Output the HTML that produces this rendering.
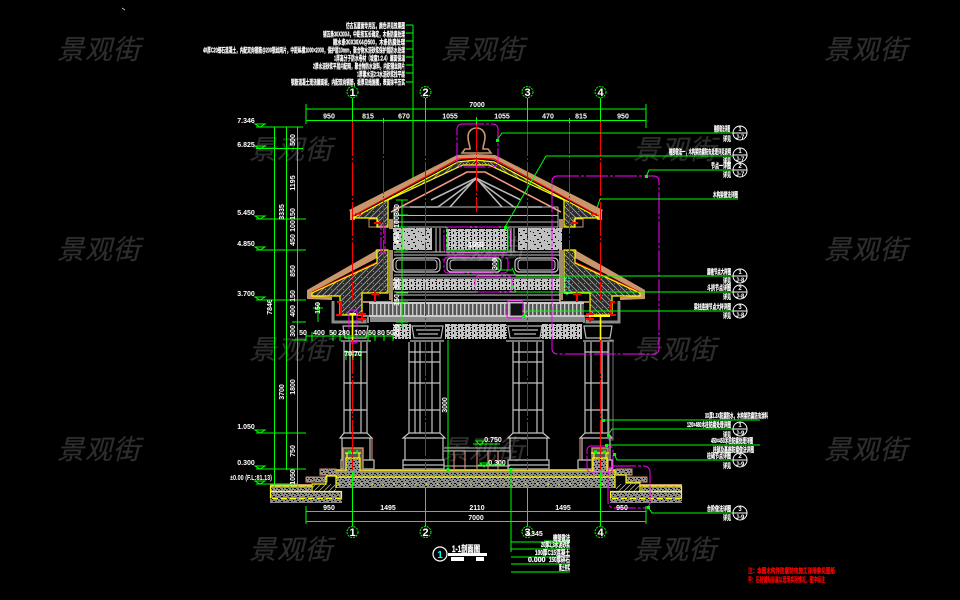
<!DOCTYPE html>
<html lang="zh">
<head>
<meta charset="utf-8">
<title>1-1剖面图</title>
<style>
html,body{margin:0;padding:0;background:#000;width:960px;height:600px;overflow:hidden}
svg{display:block}
text{font-family:"Liberation Sans","Noto Sans CJK SC",sans-serif}
.w text{fill:#2d2d2d;font-size:27px;font-weight:normal;font-style:italic;letter-spacing:1px;stroke:#2d2d2d;stroke-width:.3}
.d text{fill:#fff;font-size:7px;font-weight:bold;text-anchor:middle}
.n text{fill:#fff;font-size:7px;font-weight:bold;stroke:#fff;stroke-width:.25}
.g{stroke:#0f0;fill:none;stroke-width:1}
.y{stroke:#ff0;fill:none;stroke-width:1.2}
.m{stroke:#f0f;fill:none;stroke-width:1;stroke-dasharray:22 2 3 2}
.r{stroke:#f00;fill:none;stroke-width:1;stroke-dasharray:34 2 2 2}
.c{stroke:#c4c4c4;fill:none;stroke-width:1.2}
.circ text{fill:#fff;font-size:6px;font-weight:bold;text-anchor:middle}
.circ circle{fill:#000;stroke:#fff;stroke-width:1}
.circ line{stroke:#fff;stroke-width:1}
.ax circle{fill:none;stroke:#0f0;stroke-width:1;stroke-dasharray:2 1}
.ax text{fill:#fff;font-size:11px;font-weight:bold;text-anchor:middle}
</style>
</head>
<body>
<svg xmlns="http://www.w3.org/2000/svg" width="960" height="600" viewBox="0 0 960 600">
<defs>
<pattern id="hat" width="6" height="6" patternUnits="userSpaceOnUse">
<rect width="6" height="6" fill="#2a2a2a"/>
<path d="M0 6L6 0M-1 1L1 -1M5 7L7 5" stroke="#a0a0a0" stroke-width=".9"/>
<rect x="1" y="1" width="1" height="1" fill="#888"/>
</pattern>
<pattern id="orn" width="14" height="9" patternUnits="userSpaceOnUse">
<rect width="14" height="9" fill="#bfbfbf"/>
<rect x="2" y="1" width="2" height="1" fill="#000"/><rect x="9" y="2" width="1" height="2" fill="#000"/>
<rect x="5" y="5" width="2" height="1" fill="#000"/><rect x="12" y="6" width="1" height="1" fill="#000"/>
<rect x="1" y="7" width="1" height="1" fill="#000"/><rect x="7" y="8" width="2" height="1" fill="#000"/>
</pattern>
<pattern id="orn2" width="7" height="5" patternUnits="userSpaceOnUse">
<rect width="7" height="5" fill="#c4c4c4"/>
<rect x="1" y="1" width="2" height="1" fill="#000"/><rect x="5" y="2" width="1" height="2" fill="#000"/>
<rect x="2" y="3" width="1" height="2" fill="#000"/>
</pattern>
<pattern id="gra" width="8" height="5" patternUnits="userSpaceOnUse">
<rect width="8" height="5" fill="#8c8c8c"/>
<rect x="1" y="1" width="2" height="1" fill="#000"/><rect x="5" y="0" width="1" height="1" fill="#000"/>
<rect x="6" y="3" width="2" height="1" fill="#000"/><rect x="3" y="3" width="1" height="1" fill="#000"/>
<rect x="0" y="4" width="1" height="1" fill="#000"/>
</pattern>
<pattern id="stp" width="4" height="10" patternUnits="userSpaceOnUse">
<rect x="0" width="1.4" height="10" fill="#c8c8c8"/>
</pattern>
<pattern id="dia" width="5" height="5" patternUnits="userSpaceOnUse">
<path d="M0 5L5 0" stroke="#aaa" stroke-width=".8"/>
</pattern>
<g id="half">
<polygon points="353,218 458,163 476,160 476,165 463,165 388,201 388,227 377,227 377,218" fill="url(#hat)"/>
<polygon points="349,210 457,155 476,154 476,157 458,160 353,216" fill="#c8966a"/>
<rect x="350" y="211" width="5" height="9" fill="#c8966a"/>
<rect x="369" y="219" width="9" height="8" fill="#000" stroke="#c8966a"/>
<polyline points="353,216 458,159 476,158" stroke="#f00" fill="none"/>
<polyline points="353,218 458,162 476,160" class="y"/>
<polyline points="353,218 377,218 377,227 388,227 388,200 463,165 476,165" class="y"/>
<polyline points="391,212 467,172 476,172" stroke="#f59a80" fill="none" stroke-width="1.6"/>
<rect x="389" y="219" width="4" height="10" fill="#b08a68"/>
<rect x="376" y="250" width="12" height="4" fill="none" stroke="#c8966a"/>
<rect x="389" y="250" width="4" height="50" fill="#a08a70"/>
<line x1="355" y1="214" x2="361" y2="214" stroke="#f00" stroke-width="1.4"/>
<line x1="374" y1="223" x2="381" y2="223" stroke="#f00" stroke-width="2"/>
<polygon points="312,293 377,263 377,250 388,250 388,293 362,293 362,315 340,315 340,296 312,296" fill="url(#hat)"/>
<polygon points="307,290 377,250 377,258 312,292 312,296 332,297 332,300 307,299" fill="#c8966a"/>
<line x1="312" y1="292" x2="377" y2="262" stroke="#f00"/>
<polyline points="312,293 377,263 377,250 388,250 388,293 362,293 362,315 340,315 340,296 312,296 312,293" class="y"/>
<polyline points="362,302 392,302 392,293" stroke="#b08a68" fill="none" stroke-width="2"/>
<polyline points="333,301 333,322 365,322 365,318" stroke="#8c8c8c" fill="none" stroke-width="3"/>
<polyline points="362,316 368,316 368,323" stroke="#8c8c8c" fill="none" stroke-width="2"/>
<path d="M375 291V302M371 294H379M337 302H341V316M336 315H342M362 312V322M358 314H366M358 319H366" stroke="#f00" stroke-width="2" fill="none"/>
</g>
</defs>

<!-- watermarks -->
<g class="w">
<text x="57" y="59">景观街</text><text x="441" y="59">景观街</text><text x="824" y="59">景观街</text>
<text x="249" y="159">景观街</text><text x="633" y="159">景观街</text>
<text x="57" y="259">景观街</text><text x="441" y="259">景观街</text><text x="824" y="259">景观街</text>
<text x="249" y="359">景观街</text><text x="633" y="359">景观街</text>
<text x="57" y="459">景观街</text><text x="441" y="459">景观街</text><text x="824" y="459">景观街</text>
<text x="249" y="559">景观街</text><text x="633" y="559">景观街</text>
</g>
<line x1="122" y1="8" x2="125" y2="10" stroke="#bbb"/>

<!-- notes top -->
<g class="n">
<text x="346" y="28" textLength="59" lengthAdjust="spacingAndGlyphs">仿古瓦屋面专用瓦，颜色详见效果图</text>
<text x="323" y="36.5" textLength="82" lengthAdjust="spacingAndGlyphs">铺瓦条30X30X4，中距按瓦长确定，木条防腐处理</text>
<text x="333" y="44.5" textLength="72" lengthAdjust="spacingAndGlyphs">顺水条30X30X4@500，木条防腐处理</text>
<text x="203" y="52.5" textLength="202" lengthAdjust="spacingAndGlyphs">40厚C20细石混凝土，内配双向钢筋@200钢丝网片，中距纵横1000×2000，保护层10mm，聚合物水泥砂浆保护层防水处理</text>
<text x="334" y="60.5" textLength="71" lengthAdjust="spacingAndGlyphs">1厚高分子防水卷材（坡度1:2.4）屋面保温</text>
<text x="313" y="68.5" textLength="92" lengthAdjust="spacingAndGlyphs">2厚水泥砂浆平层内配网，聚合物防水涂料，内配钢丝网片</text>
<text x="357" y="76.5" textLength="48" lengthAdjust="spacingAndGlyphs">1厚素水泥2:3水泥砂浆找平层</text>
<text x="291" y="84.5" textLength="114" lengthAdjust="spacingAndGlyphs">钢筋混凝土现浇屋面板，内配双向钢筋，板厚见结施图，表面抹平压实</text>
</g>
<path d="M413 25V180M406 25H413M406 33H413M406 41H413M406 49H413M406 57H413M406 65H413M406 73H413M406 82H413" class="g"/>
<rect x="411.500" y="178" width="3.500" height="4" fill="#0f0"/>

<!-- roofs -->
<use href="#half"/>
<use href="#half" transform="translate(952,0) scale(-1,1)"/>
<rect x="461" y="155" width="31" height="3" fill="#c8966a"/>

<!-- finial -->
<path d="M462 153L465 149H470C470 144 468 143 468 137C468 131 472 128 476.500 128C481 128 485 131 485 137C485 143 483 144 483 149H488L491 153Z" fill="none" stroke="#c8966a" stroke-width="1.6"/>

<!-- gable structure -->
<g stroke="#b8b8b8" fill="none" stroke-width="1.6">
<path d="M410 207H438L476 179L514 207H542"/>
<path d="M431 200L476 178L521 200M450 207L476 178L502 207"/>
<path d="M394 207H558M394 215.500H558M394 222H558" stroke="#bbb" stroke-width="1"/>
<path d="M394 227H558" stroke="#bbb" stroke-width="1"/>
<path d="M394 207V227M558 207V227" stroke-width="1"/>
</g>

<!-- wall panels -->
<rect x="393" y="228" width="39" height="22" fill="url(#orn)"/>
<rect x="518" y="228" width="44" height="22" fill="url(#orn)"/>
<rect x="446" y="229" width="62" height="21" fill="url(#orn2)"/>
<g stroke="#ccc" fill="none">
<path d="M436 228V252M440 228V252M511 228V252M514 228V252"/>
<path d="M394 252H560M394 255H560M394 275H560M394 278H560M394 292H560M394 295H560M394 300H560"/>
<rect x="393" y="258" width="47" height="14" rx="4" stroke-width="1.2"/>
<rect x="396" y="260" width="41" height="10" rx="3"/>
<rect x="447" y="258" width="54" height="14" rx="4" stroke-width="1.2"/>
<rect x="450" y="260" width="48" height="10" rx="3"/>
<rect x="515" y="258" width="43" height="14" rx="4" stroke-width="1.2"/>
<rect x="518" y="260" width="37" height="10" rx="3"/>
</g>
<rect x="393" y="279" width="167" height="11" fill="url(#orn2)"/>
<rect x="369" y="302" width="215" height="14" fill="#555"/>
<rect x="369" y="302" width="215" height="14" fill="url(#stp)"/>
<rect x="369" y="302" width="215" height="2" fill="#ccc"/>
<rect x="369" y="315" width="215" height="2" fill="#ccc"/>
<rect x="370" y="317" width="213" height="5" fill="#8a8a8a"/>
<rect x="510" y="303" width="13" height="13" fill="#111" stroke="#bbb"/>

<!-- frieze -->
<rect x="393" y="324" width="18" height="15" fill="url(#orn2)"/>
<rect x="445" y="324" width="62" height="15" fill="url(#orn2)"/>
<rect x="541" y="324" width="41" height="15" fill="url(#orn2)"/>
<g stroke="#bbb" fill="none" stroke-width="1.2">
<path d="M412 326H443L441 338H414ZM416 330H440M418 334H438M410 341H444"/>
<path d="M508 326H542L540 338H510ZM512 330H538M514 334H536M506 341H544"/>
<path d="M584 326H612L610 338H586ZM583 341H614"/>
<path d="M343 326H368L366 338H345ZM341 341H371"/>
</g>

<!-- columns -->
<g class="c">
<path d="M409 342V433H440V342M415 342V433M420 342V433M432 342V433M409 352H440M409 362H440M409 383H440M409 410H440"/>
<path d="M513 342V433H543V342M519 342V433M537 342V433M513 352H543M513 362H543M513 383H543M513 410H543"/>
<path d="M344 342V433H367V342M350 342V433M361 342V433M344 352H367M344 383H367M344 410H367"/>
<path d="M585 342V433H608V342M591 342V433M602 342V433M585 352H608M585 383H608M585 410H608"/>
<path d="M409 433L403 438H445L440 433M405 438V460H443V438M403 460H444V469H403ZM403 465H444"/>
<path d="M513 433L508 438H549L543 433M510 438V460H547V438M508 460H549V469H508ZM508 465H549"/>
<path d="M344 433L340 438H372L367 433M342 438V460H370V438M341 460H374V469H341Z"/>
<path d="M585 433L580 438H612L608 433M582 438V460H610V438M578 460H612V469H578Z"/>
<path d="M444 448H510M444 451H510M444 466H510" stroke-width="1"/>
</g>
<rect x="609" y="340" width="4" height="100" fill="none" stroke="#777"/>
<path d="M454 451V469M465 451V469M477 451V469M488 451V469M498 451V469M372 438V460M580 438V460" stroke="#f59a80" stroke-width="1"/>

<!-- floor -->
<rect x="336" y="477" width="279" height="11" fill="url(#gra)"/>
<rect x="336" y="472" width="279" height="5" fill="url(#gra)"/>
<rect x="321" y="469" width="310" height="2" fill="#c8966a"/>
<path d="M336 471H615M336 477H615M336 471V488M615 471V488" class="y"/>
<path d="M338 484H614" stroke="#ff0" stroke-width="1" stroke-dasharray="2 9"/>
<!-- left steps -->
<rect x="320" y="469" width="16" height="6" fill="url(#gra)" stroke="#c8966a"/>
<rect x="306" y="477" width="21" height="5" fill="url(#gra)" stroke="#c8966a"/>
<rect x="312" y="484" width="24" height="7" fill="url(#dia)"/>
<path d="M326 476H336M326 476V484H312V491" class="y"/>
<rect x="270" y="492" width="72" height="11" fill="url(#gra)"/>
<rect x="271" y="486" width="40" height="5" fill="url(#gra)"/>
<rect x="270" y="484" width="42" height="2" fill="#c8966a"/>
<path d="M270.500 486H312M270.500 486V498.500M270.500 491.500H341.500V498.500" class="y"/>
<path d="M272 498.500H341" stroke="#ff0" stroke-width="1" stroke-dasharray="6 3"/>
<!-- right steps -->
<rect x="616" y="469" width="16" height="6" fill="url(#gra)" stroke="#c8966a"/>
<rect x="626" y="477" width="21" height="5" fill="url(#gra)" stroke="#c8966a"/>
<rect x="616" y="484" width="24" height="7" fill="url(#dia)"/>
<path d="M616 475H626V483H640V491" class="y"/>
<rect x="610" y="492" width="72" height="11" fill="url(#gra)"/>
<rect x="641" y="486" width="40" height="5" fill="url(#gra)"/>
<rect x="640" y="484" width="42" height="2" fill="#c8966a"/>
<path d="M681.500 486H640M681.500 486V498.500M681.500 491.500H610.500V498.500" class="y"/>
<path d="M612 498.500H681" stroke="#ff0" stroke-width="1" stroke-dasharray="6 3"/>
<!-- pedestals -->
<rect x="343" y="448" width="20" height="22" fill="#555" stroke="#c8966a" stroke-width="1.4"/>
<rect x="346" y="458" width="14" height="13" fill="url(#gra)"/>
<path d="M346 471V458H360V471M345 453H361M347 453V458M359 453V458" class="y"/>
<path d="M348 452H351M356 452H358" stroke="#0f0" stroke-width="3"/>
<rect x="592" y="448" width="16" height="22" fill="#555" stroke="#c8966a" stroke-width="1.4"/>
<rect x="593" y="458" width="14" height="13" fill="url(#gra)"/>
<path d="M593 471V458H607V471M591 453H609M594 453V458M606 453V458" class="y"/>
<path d="M594 452H597M603 452H606" stroke="#0f0" stroke-width="3"/>

<!-- red axes -->
<path d="M352.500 122V300M352.500 340V470M425.500 122V330M425.500 342V470M527.500 122V330M527.500 342V470M600.500 122V300M600.500 340V470M383.500 120V290M569.500 120V290M476.500 117V212" class="r"/>
<path d="M349 314H356M589 316H610" stroke="#ff0" stroke-width="2"/>
<path d="M352.500 314V340M600.500 315V340" stroke="#ff0" stroke-width="1.6"/>

<!-- magenta dashed -->
<rect x="457" y="124" width="41" height="43" rx="5" class="m"/>
<rect x="552" y="176" width="107" height="178" rx="5" class="m"/>
<rect x="444" y="227" width="66" height="26" rx="4" class="m"/>
<rect x="444" y="257" width="64" height="16" rx="4" class="m"/>
<rect x="475" y="276" width="37" height="16" rx="4" class="m"/>
<rect x="507" y="301" width="16" height="17" rx="2" class="m"/>
<rect x="349" y="310" width="8" height="33" rx="2" class="m"/>
<rect x="381" y="226" width="4" height="27" class="m"/>
<rect x="587" y="446" width="26" height="26" rx="4" class="m" stroke-width="1.4"/>
<rect x="608" y="466" width="42" height="42" rx="6" class="m"/>
<rect x="565" y="278" width="4" height="16" fill="none" stroke="#0ff" stroke-dasharray="2 1"/>

<!-- dims top -->
<path d="M306 109H646M306 120.500H646M306 104V124M646 104V128M383.500 118V123M569.500 118V123" class="g"/>
<path d="M352.500 98V122M425.500 98V122M527.500 98V122M600.500 98V122" class="g"/>
<path d="M476.500 117V124" class="g"/>
<g class="d">
<text x="477" y="107">7000</text>
<text x="329" y="118.500">950</text><text x="368" y="118.500">815</text><text x="404" y="118.500">670</text><text x="450" y="118.500">1055</text>
<text x="502" y="118.500">1055</text><text x="548" y="118.500">470</text><text x="581" y="118.500">815</text><text x="623" y="118.500">950</text>
</g>

<!-- dims bottom -->
<path d="M306 511.500H646M306 521.500H646M306 506V524M646 506V524M352.500 471V526M425.500 488V526M527.500 488V526M600.500 471V526" class="g"/>
<g class="d">
<text x="329" y="510">950</text><text x="388" y="510">1495</text><text x="477" y="510">2110</text><text x="563" y="510">1495</text><text x="622" y="510">950</text>
<text x="476" y="520">7000</text>
</g>

<!-- axis bubbles -->
<g class="ax">
<circle cx="352.500" cy="92" r="5.500"/><text x="352.500" y="96">1</text>
<circle cx="425.500" cy="92" r="5.500"/><text x="425.500" y="96">2</text>
<circle cx="527.500" cy="92" r="5.500"/><text x="527.500" y="96">3</text>
<circle cx="600.500" cy="92" r="5.500"/><text x="600.500" y="96">4</text>
<circle cx="352.500" cy="532" r="5.500"/><text x="352.500" y="536">1</text>
<circle cx="425.500" cy="532" r="5.500"/><text x="425.500" y="536">2</text>
<circle cx="527.500" cy="532" r="5.500"/><text x="527.500" y="536">3</text>
<circle cx="600.500" cy="532" r="5.500"/><text x="600.500" y="536">4</text>
</g>

<!-- left vertical dims -->
<path d="M274.500 127V484M286.500 127V470M297.500 127V484M263 127H303M263 148.500H303M263 219H303M263 250H303M263 300H303M263 433H303M263 469H303M262 484H298" class="g"/>
<path d="M292 219H306M292 250H306M292 300H306M292 322H306M292 340H306M292 433H306M292 469H306" class="g"/>
<g class="d">
<text transform="rotate(-90 284 212)" x="284" y="212">3335</text>
<text transform="rotate(-90 272 307)" x="272" y="307">7846</text>
<text transform="rotate(-90 284 392)" x="284" y="392">3700</text>
<text transform="rotate(-90 295 140)" x="295" y="140">500</text>
<text transform="rotate(-90 295 183)" x="295" y="183">1195</text>
<text transform="rotate(-90 295 214)" x="295" y="214">150</text>
<text transform="rotate(-90 295 226)" x="295" y="226">100</text>
<text transform="rotate(-90 295 240)" x="295" y="240">450</text>
<text transform="rotate(-90 295 271)" x="295" y="271">850</text>
<text transform="rotate(-90 295 296)" x="295" y="296">150</text>
<text transform="rotate(-90 295 311)" x="295" y="311">400</text>
<text transform="rotate(-90 295 331)" x="295" y="331">300</text>
<text transform="rotate(-90 295 387)" x="295" y="387">1800</text>
<text transform="rotate(-90 295 451)" x="295" y="451">750</text>
<text transform="rotate(-90 295 477)" x="295" y="477">1050</text>
</g>
<!-- elevation marks -->
<g class="g">
<path d="M256 127H271M255 124H265L260 127ZM256 148.500H271M255 146H265L260 149ZM256 219H271M255 216H265L260 219ZM256 250H271M255 247H265L260 250ZM256 300H271M255 297H265L260 300ZM256 433H271M255 430H265L260 433ZM256 469H271M255 466H265L260 469ZM256 484H271M255 481H265L260 484Z"/>
</g>
<g class="d">
<text x="246" y="123">7.346</text><text x="246" y="147">6.825</text><text x="246" y="215">5.450</text><text x="246" y="246">4.850</text>
<text x="246" y="296">3.700</text><text x="246" y="429">1.050</text><text x="246" y="465">0.300</text>
<text x="251" y="480" textLength="42" lengthAdjust="spacingAndGlyphs">±0.00 (F.L:81.13)</text>
</g>

<!-- inner vertical dim -->
<path d="M402 200V328M396 200H408M396 215H408M396 227H408M396 250H408M396 293H408M396 302H408M396 322H408" class="g"/>
<path d="M306 336H393M306 332V341M312 332V341M333 332V341M340 332V341M349 332V341M368 332V341M375 332V341M384 332V341M393 332V341" class="g"/>
<path d="M318 302V322M313 308H323M345 355H362M346 350V360M353 350V360M361 350V360" class="g"/>
<path d="M447 227V252M447 250H508M508 227V252M498 257V270M498 270H512" class="g"/>
<g class="d">
<text transform="rotate(-90 399 210)" x="399" y="210">300</text>
<text transform="rotate(-90 399 222)" x="399" y="222">100</text>
<text transform="rotate(-90 399 238)" x="399" y="238">450</text>
<text transform="rotate(-90 399 283)" x="399" y="283">850</text>
<text transform="rotate(-90 399 300)" x="399" y="300">150</text>
<text transform="rotate(-90 399 330)" x="399" y="330">200</text>
<text transform="rotate(-90 320 308)" x="320" y="308">150</text>
<text x="303" y="335">50</text><text x="319" y="335">400</text><text x="333" y="335">50</text><text x="344" y="335">280</text>
<text x="360" y="335">100</text><text x="372" y="335">50</text><text x="381" y="335">80</text><text x="390" y="335">50</text>
<text x="353" y="356">70|70</text>
<text transform="rotate(-90 447 405)" x="447" y="405">3000</text>
<text x="493" y="442">0.750</text>
<text x="497" y="465">0.300</text>
<text x="534" y="536">3.345</text>
<text transform="rotate(-90 497 264)" x="497" y="264">300</text>
<text x="476" y="247">1055</text>
</g>
<path d="M473 444H500M476 441H484L480 445ZM478 465H505M480 463H488L484 467Z" class="g"/>
<path d="M448 340V470M511 470V552" class="g"/>
<rect x="446.500" y="468" width="3" height="3" fill="#0f0"/>
<rect x="509.500" y="468" width="3" height="3" fill="#0f0"/>

<!-- leaders -->
<path d="M497 140L502 133H733M505 227L546 156H733M646 177L649 170H733M597 208L600 199H738" class="g"/>
<path d="M512 268L516 276H733M512 286L516 292H733M523 316L527 311H733" class="g"/>
<path d="M603 420H760M608 435L612 429H733M606 445H760M614 454L617 460H733M648 507L652 513H733" class="g"/>
<g fill="#0f0">
<rect x="496" y="139" width="3" height="3"/><rect x="504" y="226" width="3" height="3"/><rect x="645" y="175" width="3" height="3"/>
<rect x="511" y="285" width="3" height="3"/><rect x="522" y="315" width="3" height="3"/><rect x="602" y="419" width="3" height="3"/>
<rect x="607" y="434" width="3" height="3"/><rect x="605" y="444" width="3" height="3"/><rect x="613" y="453" width="3" height="3"/><rect x="647" y="506" width="3" height="3"/>
</g>

<!-- right labels -->
<g class="n">
<text x="714" y="131" textLength="16" lengthAdjust="spacingAndGlyphs">檐部做法详图</text>
<text x="723" y="141" textLength="8" lengthAdjust="spacingAndGlyphs">详见</text>
<text x="669" y="154" textLength="62" lengthAdjust="spacingAndGlyphs">檐部做法一，木构架防腐防虫处理详见说明</text>
<text x="723" y="163" textLength="8" lengthAdjust="spacingAndGlyphs">详见</text>
<text x="711" y="168" textLength="20" lengthAdjust="spacingAndGlyphs">节点一详图</text>
<text x="723" y="177" textLength="8" lengthAdjust="spacingAndGlyphs">详见</text>
<text x="713" y="197" textLength="25" lengthAdjust="spacingAndGlyphs">木构架做法详图</text>
<text x="707" y="274" textLength="24" lengthAdjust="spacingAndGlyphs">屋檐节点大样图</text>
<text x="723" y="283" textLength="8" lengthAdjust="spacingAndGlyphs">详见</text>
<text x="707" y="290" textLength="24" lengthAdjust="spacingAndGlyphs">斗拱节点详图</text>
<text x="723" y="299" textLength="8" lengthAdjust="spacingAndGlyphs">详见</text>
<text x="694" y="309" textLength="37" lengthAdjust="spacingAndGlyphs">梁柱连接节点大样详图</text>
<text x="723" y="318" textLength="8" lengthAdjust="spacingAndGlyphs">详见</text>
<text x="705" y="418" textLength="63" lengthAdjust="spacingAndGlyphs">3X厚1.3X防腐防水，木构架防腐防虫涂料</text>
<text x="687" y="427" textLength="44" lengthAdjust="spacingAndGlyphs">120×480木柱防腐处理详图</text>
<text x="723" y="437" textLength="8" lengthAdjust="spacingAndGlyphs">详见</text>
<text x="711" y="443" textLength="42" lengthAdjust="spacingAndGlyphs">450×450木柱防腐处理详图</text>
<text x="713" y="452" textLength="41" lengthAdjust="spacingAndGlyphs">柱础及基座防腐做法详图</text>
<text x="707" y="458" textLength="24" lengthAdjust="spacingAndGlyphs">柱础节点详图</text>
<text x="723" y="468" textLength="8" lengthAdjust="spacingAndGlyphs">详见</text>
<text x="707" y="511" textLength="24" lengthAdjust="spacingAndGlyphs">台阶做法详图</text>
<text x="723" y="520" textLength="8" lengthAdjust="spacingAndGlyphs">详见</text>
</g>
<g class="circ">
<g><circle cx="740" cy="133" r="7"/><line x1="733" y1="133" x2="747" y2="133"/><text x="740" y="131">1</text><text x="740" y="139">J-7</text></g>
<g><circle cx="740" cy="155" r="7"/><line x1="733" y1="155" x2="747" y2="155"/><text x="740" y="153">1</text><text x="740" y="161">J-7</text></g>
<g><circle cx="740" cy="170" r="7"/><line x1="733" y1="170" x2="747" y2="170"/><text x="740" y="168">2</text><text x="740" y="176">J-7</text></g>
<g><circle cx="740" cy="276" r="7"/><line x1="733" y1="276" x2="747" y2="276"/><text x="740" y="274">1</text><text x="740" y="282">J-8</text></g>
<g><circle cx="740" cy="292" r="7"/><line x1="733" y1="292" x2="747" y2="292"/><text x="740" y="290">2</text><text x="740" y="298">J-8</text></g>
<g><circle cx="740" cy="311" r="7"/><line x1="733" y1="311" x2="747" y2="311"/><text x="740" y="309">3</text><text x="740" y="317">J-8</text></g>
<g><circle cx="740" cy="429" r="7"/><line x1="733" y1="429" x2="747" y2="429"/><text x="740" y="427">1</text><text x="740" y="435">J-9</text></g>
<g><circle cx="740" cy="460" r="7"/><line x1="733" y1="460" x2="747" y2="460"/><text x="740" y="458">2</text><text x="740" y="466">J-9</text></g>
<g><circle cx="740" cy="513" r="7"/><line x1="733" y1="513" x2="747" y2="513"/><text x="740" y="511">3</text><text x="740" y="519">J-9</text></g>
</g>

<!-- lower table -->
<path d="M511 542H570M511 549H570M511 557H570M511 564H570M511 572H570" class="g"/>
<path d="M544 541L552 548L560 541M544 541H570" class="g"/>
<g class="n">
<text x="553" y="540" textLength="17" lengthAdjust="spacingAndGlyphs">檐部做法</text>
<text x="541" y="547" textLength="29" lengthAdjust="spacingAndGlyphs">20厚1:3水泥砂浆</text>
<text x="535" y="555" textLength="35" lengthAdjust="spacingAndGlyphs">100厚C15混凝土</text>
<text x="528" y="562" font-size="6">0.000</text>
<text x="549" y="562" textLength="21" lengthAdjust="spacingAndGlyphs">150厚碎石</text>
<text x="559" y="570" textLength="11" lengthAdjust="spacingAndGlyphs">素土夯实</text>
</g>

<!-- title -->
<circle cx="440" cy="554" r="7" fill="#000" stroke="#fff" stroke-width="1.2"/>
<text x="440" y="558" fill="#0ff" font-size="10" text-anchor="middle" font-weight="bold">1</text>
<text x="452" y="552" fill="#fff" font-size="9" font-weight="bold" stroke="#fff" stroke-width=".3" textLength="28" lengthAdjust="spacingAndGlyphs">1-1剖面图</text>
<rect x="448" y="553" width="39" height="3" fill="#fff"/>
<rect x="451" y="557" width="13" height="4" fill="#fff"/>
<rect x="476" y="557" width="8" height="4" fill="#fff"/>

<!-- red notes -->
<g fill="#f00" font-size="7" font-weight="bold" stroke="#f00" stroke-width=".25">
<text x="748" y="573" textLength="87" lengthAdjust="spacingAndGlyphs">注：本图木构件防腐防虫施工详细参见图纸</text>
<text x="748" y="582" textLength="77" lengthAdjust="spacingAndGlyphs">平：石材铺贴标高以现场实际情况，图中标注</text>
</g>
</svg>
</body>
</html>
